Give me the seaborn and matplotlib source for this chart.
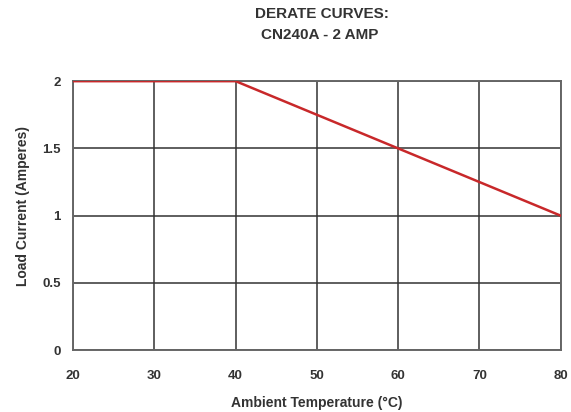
import matplotlib
matplotlib.use("Agg")
import matplotlib.pyplot as plt
import seaborn as sns
import pandas as pd

# derate curve values
temps = [20, 40, 80]
current = [2, 2, 1]
x_ticks = [20, 30, 40, 50, 60, 70, 80]
y_ticks = [0, 0.5, 1, 1.5, 2]
y_labels = ["0", "0.5", "1", "1.5", "2"]

df = pd.DataFrame({"temp": temps, "amps": current})

sns.set_theme(style="white")
plt.rcParams["font.family"] = ["Liberation Sans", "DejaVu Sans"]

fig = plt.figure(figsize=(5.71, 4.12), dpi=100)
ax = fig.add_axes([0.128, 0.150, 0.854, 0.653])

sns.lineplot(data=df, x="temp", y="amps", ax=ax, color="#c8282a", linewidth=1.8, zorder=3)

ax.set_xlim(20, 80)
ax.set_ylim(0, 2)
ax.set_xticks(x_ticks)
ax.set_yticks(y_ticks)
ax.set_yticklabels(y_labels)
ax.grid(True, color="#333333", linewidth=1.1)
for s in ax.spines.values():
    s.set_color("#666666")
    s.set_linewidth(1.4)
ax.tick_params(axis="x", length=0, pad=14, labelsize=9.5)
ax.tick_params(axis="y", length=0, pad=9, labelsize=9.5)
for lab in ax.get_xticklabels() + ax.get_yticklabels():
    lab.set_fontweight("bold")
    lab.set_color("#333333")

ax.set_xlabel("Ambient Temperature (°C)", fontsize=10, fontweight="bold", color="#333333")
ax.set_ylabel("Load Current (Amperes)", fontsize=10, fontweight="bold", color="#333333")
ax.xaxis.set_label_coords(0.5, -0.17)
ax.yaxis.set_label_coords(-0.088, 0.535)
fig.text(0.563, 0.966, "DERATE CURVES:", ha="center", va="center",
         fontsize=11, fontweight="bold", color="#333333")
fig.text(0.560, 0.915, "CN240A - 2 AMP", ha="center", va="center",
         fontsize=11, fontweight="bold", color="#333333")

fig.savefig("out.png", dpi=100)
